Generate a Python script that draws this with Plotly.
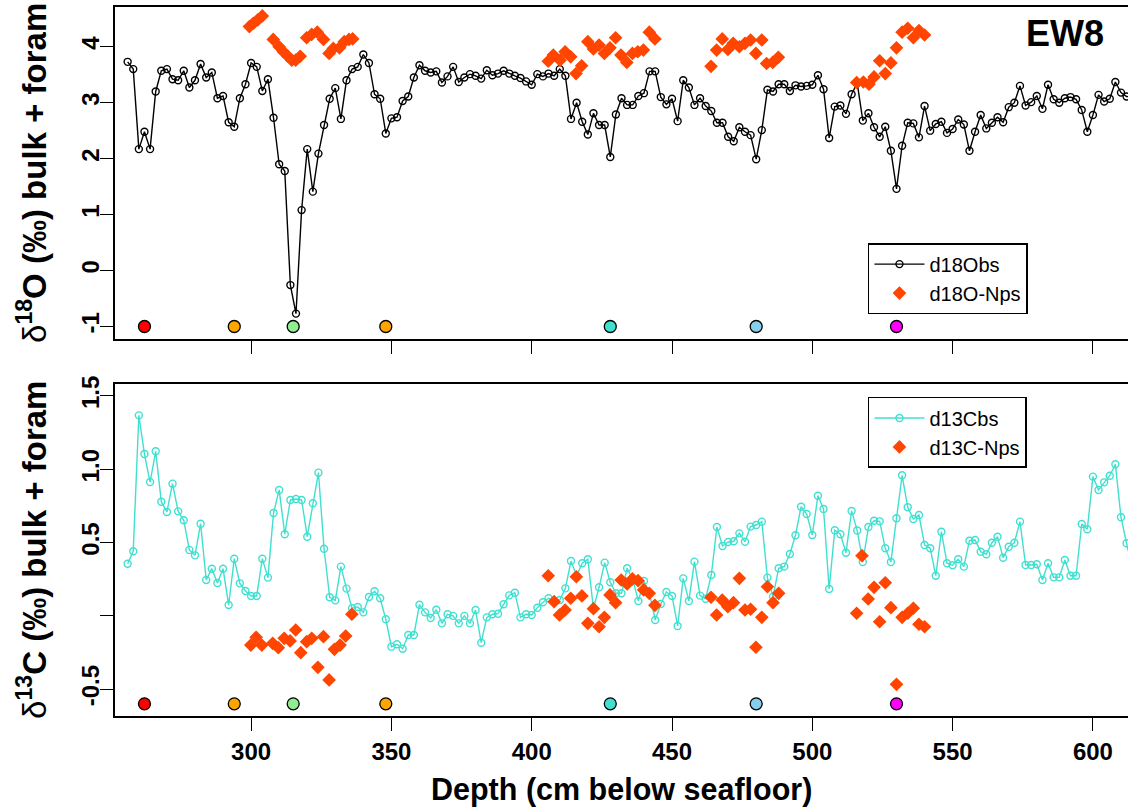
import plotly.graph_objects as go

# ---------------- data ----------------
depth = [
    256, 258, 260, 262, 264, 266, 268, 270, 272, 274, 276, 278, 280, 282, 284, 286, 288, 290, 292, 294,
    296, 298, 300, 302, 304, 306, 308, 310, 312, 314, 316, 318, 320, 322, 324, 326, 328, 330, 332, 334,
    336, 338, 340, 342, 344, 346, 348, 350, 352, 354, 356, 358, 360, 362, 364, 366, 368, 370, 372, 374,
    376, 378, 380, 382, 384, 386, 388, 390, 392, 394, 396, 398, 400, 402, 404, 406, 408, 410, 412, 414,
    416, 418, 420, 422, 424, 426, 428, 430, 432, 434, 436, 438, 440, 442, 444, 446, 448, 450, 452, 454,
    456, 458, 460, 462, 464, 466, 468, 470, 472, 474, 476, 478, 480, 482, 484, 486, 488, 490, 492, 494,
    496, 498, 500, 502, 504, 506, 508, 510, 512, 514, 516, 518, 520, 522, 524, 526, 528, 530, 532, 534,
    536, 538, 540, 542, 544, 546, 548, 550, 552, 554, 556, 558, 560, 562, 564, 566, 568, 570, 572, 574,
    576, 578, 580, 582, 584, 586, 588, 590, 592, 594, 596, 598, 600, 602, 604, 606, 608, 610, 612, 614,
]

d18O_bs = [
    3.73, 3.60, 2.17, 2.48, 2.17, 3.20, 3.57, 3.60, 3.42, 3.40, 3.57, 3.27, 3.40, 3.69, 3.45, 3.54, 3.08, 3.12, 2.65, 2.57,
    3.08, 3.33, 3.71, 3.64, 3.21, 3.42, 2.73, 1.90, 1.78, -0.26, -0.77, 1.08, 2.17, 1.41, 2.09, 2.60, 3.07, 3.26, 2.71, 3.40,
    3.60, 3.64, 3.86, 3.71, 3.15, 3.07, 2.45, 2.72, 2.74, 3.03, 3.11, 3.45, 3.67, 3.57, 3.54, 3.56, 3.36, 3.47, 3.64, 3.37,
    3.45, 3.51, 3.48, 3.43, 3.58, 3.49, 3.52, 3.57, 3.52, 3.48, 3.44, 3.38, 3.32, 3.51, 3.47, 3.52, 3.48, 3.60, 3.48, 2.71,
    3.00, 2.66, 2.43, 2.81, 2.60, 2.60, 2.03, 2.79, 3.08, 2.96, 2.96, 3.12, 3.17, 3.56, 3.56, 3.10, 2.97, 3.07, 2.67, 3.40,
    3.27, 2.96, 3.08, 2.94, 2.85, 2.64, 2.64, 2.39, 2.31, 2.56, 2.48, 2.42, 1.99, 2.51, 3.23, 3.20, 3.33, 3.33, 3.21, 3.31,
    3.29, 3.30, 3.32, 3.49, 3.24, 2.37, 2.93, 2.95, 2.80, 3.15, 3.35, 2.68, 2.81, 2.56, 2.39, 2.57, 2.14, 1.46, 2.23, 2.64,
    2.63, 2.38, 2.94, 2.50, 2.62, 2.66, 2.46, 2.53, 2.70, 2.61, 2.14, 2.48, 2.78, 2.54, 2.64, 2.74, 2.65, 2.92, 3.00, 3.30,
    2.95, 3.01, 3.12, 2.89, 3.32, 3.06, 3.00, 3.08, 3.10, 3.06, 2.87, 2.48, 2.78, 3.14, 3.02, 3.07, 3.37, 3.18, 3.11, 3.10,
]

d13C_bs = [
    0.356, 0.441, 1.368, 1.104, 0.913, 1.123, 0.779, 0.709, 0.902, 0.713, 0.652, 0.450, 0.413, 0.629, 0.245, 0.322, 0.224, 0.322, 0.074, 0.390,
    0.222, 0.170, 0.136, 0.136, 0.390, 0.261, 0.702, 0.859, 0.557, 0.791, 0.797, 0.791, 0.540, 0.768, 0.977, 0.458, 0.127, 0.106, 0.336, 0.186,
    0.052, 0.061, 0.024, 0.129, 0.168, 0.120, -0.023, -0.210, -0.194, -0.224, -0.130, -0.130, 0.076, 0.024, -0.014, 0.042, -0.051, 0.011, 0.000, -0.051,
    0.000, -0.051, 0.040, -0.183, -0.010, 0.011, 0.015, 0.079, 0.140, 0.158, -0.010, 0.011, 0.006, 0.056, 0.093, 0.120, 0.104, 0.108, 0.188, 0.374,
    0.274, 0.359, 0.386, 0.049, 0.195, 0.363, 0.229, 0.154, 0.154, 0.325, 0.250, 0.102, 0.238, 0.154, -0.028, 0.081, 0.163, 0.136, -0.069, 0.256,
    0.102, 0.370, 0.138, 0.117, 0.279, 0.606, 0.477, 0.504, 0.509, 0.563, 0.506, 0.609, 0.620, 0.643, 0.261, 0.131, 0.325, 0.336, 0.422, 0.550,
    0.745, 0.695, 0.552, 0.820, 0.729, 0.183, 0.584, 0.557, 0.431, 0.716, 0.582, 0.368, 0.606, 0.649, 0.645, 0.461, 0.368, 0.666, 0.959, 0.741,
    0.661, 0.688, 0.484, 0.461, 0.274, 0.574, 0.359, 0.345, 0.386, 0.336, 0.513, 0.518, 0.438, 0.420, 0.499, 0.540, 0.397, 0.472, 0.499, 0.643,
    0.347, 0.347, 0.352, 0.245, 0.359, 0.263, 0.263, 0.381, 0.274, 0.274, 0.627, 0.591, 0.950, 0.859, 0.911, 0.956, 1.034, 0.673, 0.495, 0.330,
]

nps_depth_O = [
    299.4, 300.8, 302.4, 304.0, 307.9, 310.0, 311.5, 313.1, 314.5, 315.9, 317.5, 319.8, 321.6, 323.6, 325.8, 327.8, 329.3, 331.5, 333.2, 334.9, 336.2,
    405.9, 407.7, 410.1, 411.9, 413.9, 415.8, 417.8, 420.0, 422.0, 424.0, 425.9, 427.9, 429.9, 431.8, 433.9, 435.9, 437.8, 439.8, 441.9, 443.9,
    463.9, 465.9, 467.9, 469.9, 471.8, 474.0, 476.0, 478.0, 479.9, 482.0, 483.7, 485.9, 487.9,
    515.8, 518.2, 520.2, 522.0, 524.0, 526.0, 528.0, 530.0, 532.0, 534.0, 536.0, 538.0, 540.0,
]
d18O_nps = [
    4.36, 4.42, 4.48, 4.55, 4.13, 4.00, 3.91, 3.83, 3.76, 3.76, 3.83, 4.16, 4.22, 4.26, 4.13, 3.88, 3.97, 3.98, 4.09, 4.13, 4.14,
    3.74, 3.85, 3.76, 3.91, 3.82, 3.52, 3.66, 4.09, 3.96, 4.03, 3.88, 3.98, 4.16, 3.85, 3.72, 3.88, 3.91, 3.94, 4.26, 4.14,
    3.65, 3.94, 4.14, 3.95, 4.06, 4.00, 4.06, 4.12, 3.88, 4.12, 3.70, 3.72, 3.81,
    3.36, 3.37, 3.33, 3.46, 3.75, 3.52, 3.71, 3.98, 4.26, 4.33, 4.16, 4.29, 4.21,
]

nps_depth_C = [
    299.9, 301.8, 303.8, 307.7, 309.7, 311.8, 313.9, 315.9, 317.7, 319.8, 321.6, 323.8, 325.8, 327.8, 329.7, 331.7, 333.7, 335.9,
    405.9, 408.0, 409.9, 411.9, 413.9, 415.9, 417.9, 420.0, 422.0, 424.0, 425.9, 427.9, 429.9, 431.9, 434.0, 435.9, 437.9, 439.9, 441.9, 443.9,
    463.9, 465.9, 467.9, 469.9, 471.9, 474.0, 476.0, 478.0, 479.9, 482.0, 484.0, 486.0, 488.0,
    515.8, 517.7, 519.9, 522.0, 524.0, 526.0, 528.0, 530.0, 532.0, 534.0, 536.0, 538.0, 540.0,
]
d13C_nps = [
    -0.199, -0.146, -0.199, -0.187, -0.217, -0.153, -0.171, -0.096, -0.251, -0.176, -0.153, -0.351, -0.142, -0.437, -0.228, -0.199, -0.137, 0.011,
    0.274, 0.097, 0.006, 0.040, 0.120, 0.267, 0.136, -0.051, 0.049, -0.074, -0.010, 0.143, 0.090, 0.245, 0.218, 0.252, 0.240, 0.177, 0.154, 0.072,
    0.127, 0.006, 0.108, 0.063, 0.090, 0.256, 0.040, 0.045, -0.214, -0.010, 0.199, 0.090, 0.154,
    0.018, 0.411, 0.115, 0.195, -0.040, 0.226, 0.056, -0.467, -0.010, 0.018, 0.052, -0.057, -0.074,
]

event_depths = [262, 294, 315, 348, 428, 480, 530]
event_colors = ["red", "orange", "lightgreen", "orange", "turquoise", "skyblue", "magenta"]
event_level_O = [-1.0] * len(event_depths)
event_level_C = [-0.6] * len(event_depths)

x_ticks = [300, 350, 400, 450, 500, 550, 600]
yO_ticks = [-1, 0, 1, 2, 3, 4]
yO_labels = ["-1", "0", "1", "2", "3", "4"]
yC_ticks = [-0.5, 0.0, 0.5, 1.0, 1.5]
yC_labels = ["-0.5", "", "0.5", "1.0", "1.5"]

# ---------------- figure ----------------
FONT = "Liberation Sans"
fig = go.Figure()

fig.add_trace(go.Scatter(
    x=depth, y=d18O_bs, mode="lines+markers", name="d18Obs",
    line=dict(color="black", width=1.4),
    marker=dict(symbol="circle-open", size=7, color="black", line=dict(width=1.4)),
    xaxis="x", yaxis="y", legend="legend"))
fig.add_trace(go.Scatter(
    x=nps_depth_O, y=d18O_nps, mode="markers", name="d18O-Nps",
    marker=dict(symbol="diamond", size=10.5, color="orangered", line=dict(width=0)),
    xaxis="x", yaxis="y", legend="legend"))
fig.add_trace(go.Scatter(
    x=event_depths, y=event_level_O, mode="markers", showlegend=False,
    marker=dict(symbol="circle", size=12, color=event_colors, line=dict(color="black", width=1.3)),
    xaxis="x", yaxis="y"))

fig.add_trace(go.Scatter(
    x=depth, y=d13C_bs, mode="lines+markers", name="d13Cbs",
    line=dict(color="turquoise", width=1.4),
    marker=dict(symbol="circle-open", size=7, color="turquoise", line=dict(width=1.4)),
    xaxis="x2", yaxis="y2", legend="legend2"))
fig.add_trace(go.Scatter(
    x=nps_depth_C, y=d13C_nps, mode="markers", name="d13C-Nps",
    marker=dict(symbol="diamond", size=10.5, color="orangered", line=dict(width=0)),
    xaxis="x2", yaxis="y2", legend="legend2"))
fig.add_trace(go.Scatter(
    x=event_depths, y=event_level_C, mode="markers", showlegend=False,
    marker=dict(symbol="circle", size=12, color=event_colors, line=dict(color="black", width=1.3)),
    xaxis="x2", yaxis="y2"))

axis_common = dict(showline=True, linecolor="black", linewidth=1.5, ticks="outside",
                   ticklen=13, tickwidth=1.3, tickcolor="black", showgrid=False, zeroline=False)
tickfont = dict(family=FONT, size=24, color="black", weight="bold")

fig.update_layout(
    width=1128, height=809,
    margin=dict(l=115, r=0, t=7, b=93),
    paper_bgcolor="white", plot_bgcolor="white",
    xaxis=dict(domain=[0, 1], anchor="y", range=[251.5, 612.5], tickvals=x_ticks,
               showticklabels=False, mirror=True, **axis_common),
    yaxis=dict(domain=[0.5317, 1], anchor="x", range=[-1.224, 4.71], tickvals=yO_ticks,
               ticktext=yO_labels, tickangle=-90, tickfont=tickfont, mirror=False,
               ticklabelstandoff=-8, **axis_common),
    xaxis2=dict(domain=[0, 1], anchor="y2", range=[251.5, 612.5], tickvals=x_ticks,
                tickfont=tickfont, mirror=True, **axis_common),
    yaxis2=dict(domain=[0, 0.4683], anchor="x2", range=[-0.683, 1.582], tickvals=yC_ticks,
                ticktext=yC_labels, tickangle=-90, tickfont=tickfont, mirror=False,
                ticklabelstandoff=-8, **axis_common),
    legend=dict(x=0.7433, y=0.667, xanchor="left", yanchor="top", bgcolor="white",
                bordercolor="black", borderwidth=1.5, font=dict(family=FONT, size=20, color="black"),
                itemwidth=50, tracegroupgap=0),
    legend2=dict(x=0.7433, y=0.450, xanchor="left", yanchor="top", bgcolor="white",
                 bordercolor="black", borderwidth=1.5, font=dict(family=FONT, size=20, color="black"),
                 itemwidth=50, tracegroupgap=0),
    showlegend=True,
)

title_font = dict(family=FONT, size=33, color="black")
fig.add_annotation(text="δ<sup><b>18</b></sup><b>O (‰) bulk + foram</b>", textangle=-90,
                   xref="paper", yref="paper", x=-0.082, y=(0.5317 + 1) / 2,
                   xanchor="center", yanchor="middle", showarrow=False, font=title_font)
fig.add_annotation(text="δ<sup><b>13</b></sup><b>C (‰) bulk + foram</b>", textangle=-90,
                   xref="paper", yref="paper", x=-0.082, y=0.4683 / 2,
                   xanchor="center", yanchor="middle", showarrow=False, font=title_font)
fig.add_annotation(text="<b>Depth (cm below seafloor)</b>", xref="paper", yref="paper",
                   x=0.5, y=-73 / 709, xanchor="center", yanchor="middle", showarrow=False,
                   font=dict(family=FONT, size=30.5, color="black"))
fig.add_annotation(text="<b>EW8</b>", xref="paper", yref="paper",
                   x=(1065 - 115) / 1013, y=(716 - 33.5) / 709, xanchor="center", yanchor="middle",
                   showarrow=False, font=dict(family=FONT, size=36, color="black"))

fig.write_html("out.html")
